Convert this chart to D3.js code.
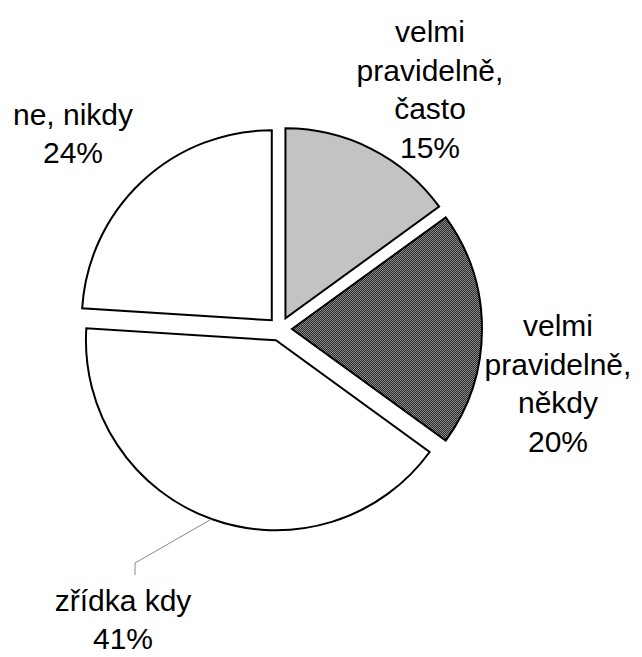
<!DOCTYPE html>
<html>
<head>
<meta charset="utf-8">
<script src="https://cdn.jsdelivr.net/npm/d3@7"></script>
<style>
  body { margin: 0; background: #fff; }
  text { font-family: "Liberation Sans", Arial, sans-serif; fill: #000; }
</style>
</head>
<body>
<div id="chart"></div>
<script>
// data
var categories = ["velmi pravidelně, často", "velmi pravidelně, někdy", "zřídka kdy", "ne, nikdy"];
var categoryLines = [["velmi", "pravidelně,", "často"], ["velmi", "pravidelně,", "někdy"], ["zřídka kdy"], ["ne, nikdy"]];
var values = [15, 20, 41, 24];

// layout
var width = 642, height = 657;
var cx = 280, cy = 329, radius = 190, explode = 12;
var fontSize = 30, lineH = 38.5;
// label block centres, relative to pie centre
var labelPos = [[150, -240], [278, 54], [-157, 290], [-207, -196]];
var fills = ["url(#lightDots)", "url(#darkDots)", "#fff", "#fff"];

var svg = d3.select("#chart").append("svg")
  .attr("width", width)
  .attr("height", height);

var defs = svg.append("defs");
function dither(id, bg, fg) {
  var p = defs.append("pattern")
    .attr("id", id)
    .attr("patternUnits", "userSpaceOnUse")
    .attr("width", 2).attr("height", 2);
  p.append("rect").attr("width", 2).attr("height", 2).attr("fill", bg);
  p.append("rect").attr("width", 1).attr("height", 1).attr("fill", fg);
  p.append("rect").attr("x", 1).attr("y", 1).attr("width", 1).attr("height", 1).attr("fill", fg);
}
dither("lightDots", "#e6e6e6", "#a0a0a0");
dither("darkDots", "#8a8a8a", "#2a2a2a");

var pie = d3.pie().sort(null).value(d => d);
var arcs = pie(values);
var arc = d3.arc().innerRadius(0).outerRadius(radius);

var g = svg.append("g").attr("transform", "translate(" + cx + "," + cy + ")");

g.selectAll("path")
  .data(arcs)
  .enter()
  .append("path")
  .attr("d", arc)
  .attr("transform", function(d) {
    var a = (d.startAngle + d.endAngle) / 2;
    return "translate(" + (Math.sin(a) * explode) + "," + (-Math.cos(a) * explode) + ")";
  })
  .attr("fill", (d, i) => fills[i])
  .attr("stroke", "#000")
  .attr("stroke-width", 2)
  .attr("stroke-linejoin", "miter");

// leader line for the big slice
var big = arcs[2];
var bigMid = (big.startAngle + big.endAngle) / 2;
var ox = Math.sin(bigMid) * explode, oy = -Math.cos(bigMid) * explode;
var p0 = [ox + Math.sin(bigMid) * radius, oy - Math.cos(bigMid) * radius];
var lp = labelPos[2];
g.append("polyline")
  .attr("points", [p0, [lp[0] + 12, lp[1] - 56], [lp[0] + 12, lp[1] - 44]].map(p => p.join(",")).join(" "))
  .attr("fill", "none")
  .attr("stroke", "#888")
  .attr("stroke-width", 1);

// labels
var labels = g.selectAll(".lbl")
  .data(arcs)
  .enter()
  .append("text")
  .attr("class", "lbl")
  .attr("text-anchor", "middle")
  .style("font-size", fontSize + "px");

labels.each(function(d, i) {
  var lines = categoryLines[i].concat([values[i] + "%"]);
  var t = d3.select(this);
  var top = labelPos[i][1] - (lines.length - 1) * lineH / 2 + fontSize * 0.36;
  lines.forEach(function(s, k) {
    t.append("tspan")
      .attr("x", labelPos[i][0])
      .attr("y", top + k * lineH)
      .text(s);
  });
});
</script>
</body>
</html>
